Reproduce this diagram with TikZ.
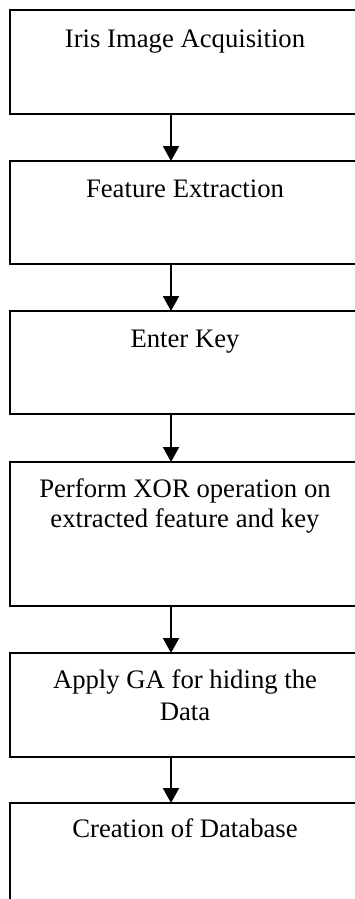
\documentclass[tikz,border=0pt]{standalone}
\usepackage{fontspec}
\setmainfont{Liberation Serif}
\usetikzlibrary{arrows.meta}
\begin{document}
\begin{tikzpicture}[x=1pt,y=-1pt,
  box/.style={draw=black, line width=2pt, rectangle, minimum width=355pt, outer sep=0pt, inner sep=0pt},
  lbl/.style={anchor=base, align=center, inner sep=0pt, font=\fontsize{26.7}{30}\selectfont},
  flow/.style={line width=2pt, -{Triangle[length=15pt,width=16pt]}}]
\useasboundingbox (0,0) rectangle (355,899);
\clip (0,0) rectangle (355,899);
\coordinate (ax) at (171,0);
\node[box, minimum height=104pt] (b1) at (187.5,62) {};
\node[box, minimum height=103pt] (b2) at (187.5,212.5) {};
\node[box, minimum height=103pt] (b3) at (187.5,362.5) {};
\node[box, minimum height=144pt] (b4) at (187.5,534) {};
\node[box, minimum height=104pt] (b5) at (187.5,705) {};
\node[box, minimum height=160pt] (b6) at (187.5,883) {};
\node[lbl] (t1) at (185,48) {Iris Image Acquisition};
\node[lbl] (t2) at (185,197) {Feature Extraction};
\node[lbl] (t3) at (185,347) {Enter Key};
\node[lbl] (t4) at (185,527) {Perform XOR operation on\\extracted feature and key};
\node[lbl, font=\fontsize{26.7}{32}\selectfont] (t5) at (185,720) {Apply GA for hiding the\\Data};
\node[lbl] (t6) at (185,837) {Creation of Database};
\draw[flow] (b1.south -| ax) -- (b2.north -| ax);
\draw[flow] (b2.south -| ax) -- (b3.north -| ax);
\draw[flow] (b3.south -| ax) -- (b4.north -| ax);
\draw[flow] (b4.south -| ax) -- (b5.north -| ax);
\draw[flow] (b5.south -| ax) -- (b6.north -| ax);
\end{tikzpicture}
\end{document}
